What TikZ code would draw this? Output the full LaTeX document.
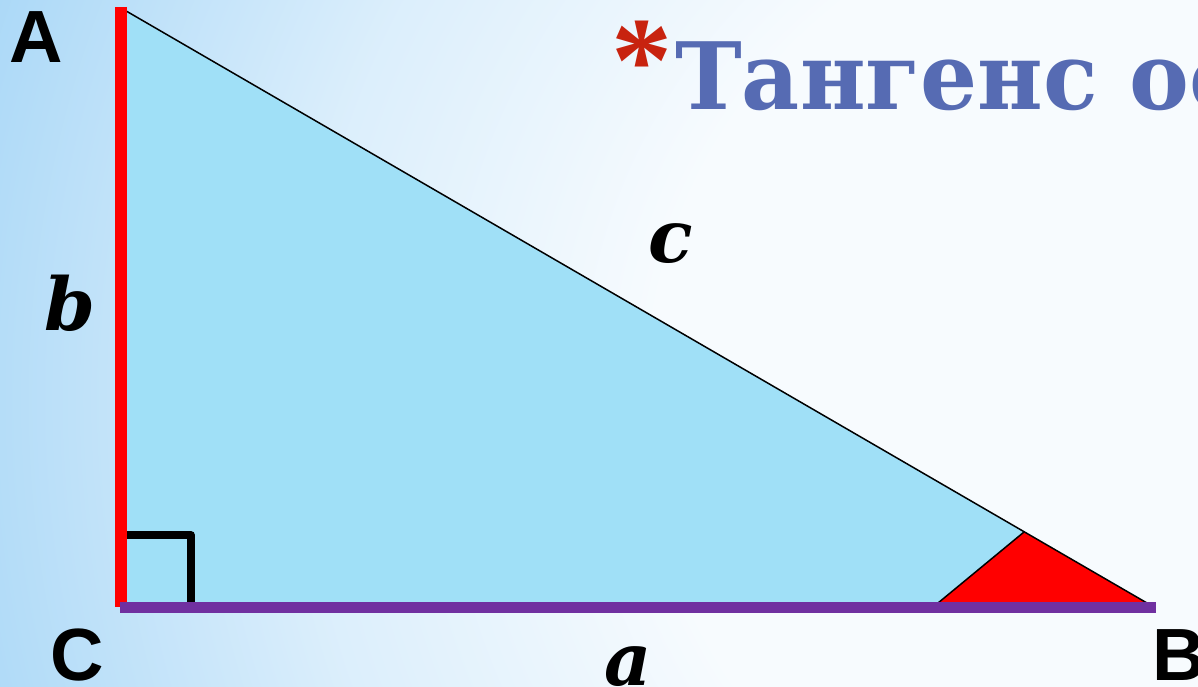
\documentclass[tikz,border=0pt]{standalone}
\usepackage{fontspec}
\newfontfamily\titlefont{DejaVu Serif}
\newfontfamily\starfont{Liberation Serif}
\newfontfamily\vertexfont{Liberation Sans}
\newfontfamily\sidefont{DejaVu Serif}
\definecolor{bgblue}{RGB}{168,215,247}
\definecolor{bgwhite}{RGB}{247,251,254}
\colorlet{bgmid}{bgblue!35!bgwhite}
\definecolor{trifill}{RGB}{160,224,247}
\definecolor{basepurple}{RGB}{112,48,160}
\definecolor{titleblue}{RGB}{86,107,179}
\definecolor{starred}{RGB}{200,35,15}
\pgfdeclareradialshading{bgshade}{\pgfpoint{0bp}{0bp}}{color(0bp)=(bgwhite); color(10bp)=(bgwhite); color(17bp)=(bgmid); color(25bp)=(bgblue); color(50bp)=(bgblue)}
\tikzset{
  vertexlabel/.style={inner sep=0, font=\vertexfont\bfseries\fontsize{74}{80}\selectfont},
  sidelabel/.style={inner sep=0, anchor=base, font=\sidefont\bfseries\itshape\fontsize{73}{80}\selectfont},
  legline/.style={line width=12pt, draw=red},
  baseline/.style={line width=11pt, draw=basepurple},
  thinline/.style={line width=1.5pt, draw=black},
  rightmark/.style={line width=7.5pt, draw=black, line join=round}
}
\begin{document}
\begin{tikzpicture}[x=1pt,y=-1pt]
\useasboundingbox (0,0) rectangle (1198,687);
\clip (0,0) rectangle (1198,687);
\shade[shading=bgshade] (-100,-850) rectangle (2400,1650);
% vertices
\coordinate (A) at (121,8);
\coordinate (C) at (121,605);
\coordinate (B) at (1147,603);
\coordinate (P) at (938,603);
\coordinate (Q) at (1024,532);
% triangle
\fill[trifill] (A) -- (C) -- (B) -- cycle;
\fill[red] (P) -- (Q) -- (B) -- cycle;
\draw[thinline] (P) -- (Q);
\draw[thinline] (A) -- (B);
% right angle mark
\coordinate (M1) at (122,535);
\coordinate (M2) at (191,535);
\coordinate (M3) at (191,604);
\draw[rightmark] (M1) -- (M2) -- (M3);
% legs
\coordinate (Atop) at (121,7);
\coordinate (Cbot) at (121,607);
\coordinate (Cleft) at (120,607);
\coordinate (Bend) at (1156,607);
\draw[legline] (Atop) -- (Cbot);
\draw[baseline] (Cleft) -- (Bend);
% title
\node[anchor=base, inner sep=0, text=starred, font=\starfont\bfseries\fontsize{122}{122}\selectfont] (star) at (642,102) {*};
\node[anchor=base west, inner sep=0, text=titleblue, font=\titlefont\bfseries\fontsize{93}{100}\selectfont] (title) at (675,110) {\scalebox{0.965}[1]{Тангенс ос}};
% vertex labels
\node[vertexlabel, anchor=base] (labA) at (36,63) {A};
\node[vertexlabel, anchor=base] (labC) at (77,680) {C};
\node[vertexlabel, anchor=base west] (labB) at (1152,680) {B};
% side labels
\node[sidelabel] (labb) at (70,330) {b};
\node[sidelabel] (labc) at (671,262) {c};
\node[sidelabel] (laba) at (628,685) {a};
\end{tikzpicture}
\end{document}
